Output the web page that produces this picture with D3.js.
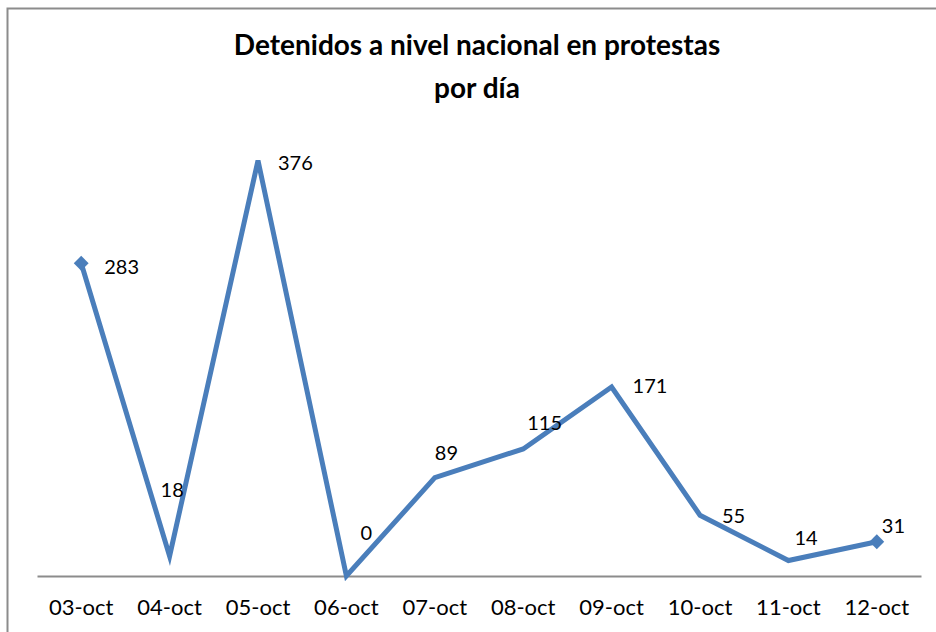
<!DOCTYPE html>
<html>
<head>
<meta charset="utf-8">
<script src="https://cdn.jsdelivr.net/npm/d3@7"></script>
<style>
  body { margin: 0; background: #fff; }
  svg { display: block; font-family: Lato, "Open Sans", sans-serif; }
</style>
</head>
<body>
<div class="lineChart"></div>
<script>
let days = ['03-oct', '04-oct', '05-oct', '06-oct', '07-oct', '08-oct', '09-oct', '10-oct', '11-oct', '12-oct'];
let detenidos = [283, 18, 376, 0, 89, 115, 171, 55, 14, 31];
let titleLines = ['Detenidos a nivel nacional en protestas', 'por día'];

// label nudges, as moved by hand in the original
let nudge = {
    '03-oct': [23, 4], '04-oct': [-9, -66], '05-oct': [20, 2], '06-oct': [14, -43],
    '07-oct': [0, -25], '08-oct': [4, -26], '09-oct': [21, -1], '10-oct': [22, 1],
    '11-oct': [6, -23], '12-oct': [5, -16]
};

function drawLineChart() {
    let margin = {top: 134, right: 15, bottom: 56, left: 37};
    let svg = d3.select('.lineChart')
        .append('svg')
        .attr('width', 936)
        .attr('height', 632);
    let width = +svg.attr('width') - margin.left - margin.right;
    let height = +svg.attr('height') - margin.top - margin.bottom;

    // frame (right and bottom edges cropped in the original)
    svg.append('path')
        .attr('d', 'M7.5,640 V8.5 H940')
        .attr('fill', 'none')
        .attr('stroke', '#8c8c8c')
        .attr('stroke-width', 2);

    svg.append('text')
        .attr('x', 477)
        .attr('y', 45)
        .attr('text-anchor', 'middle')
        .style('font-weight', 'bold')
        .style('font-size', '28px')
        .selectAll('tspan')
        .data(titleLines)
        .enter().append('tspan')
        .attr('x', 477)
        .attr('dy', (d, i) => i === 0 ? '0.35em' : 43)
        .text(d => d);

    let x = d3.scaleBand().domain(days).range([0, width]);
    let y = d3.scaleLinear().domain([0, 400]).range([height, 0]);
    let cx = d => x(d) + x.bandwidth() / 2;

    let g = svg.append('g')
        .attr('transform', 'translate(' + margin.left + ',' + margin.top + ')');

    let axis = g.append('g')
        .attr('transform', 'translate(0,' + height + ')')
        .call(d3.axisBottom(x).tickSize(0).tickPadding(23));
    axis.select('.domain').attr('stroke', '#8c8c8c').attr('stroke-width', 2);
    axis.selectAll('text')
        .style('font-size', '22px')
        .style('font-family', 'Lato, "Open Sans", sans-serif')
        .attr('fill', '#000');

    let line = d3.line()
        .x((d, i) => cx(days[i]))
        .y(d => y(d));

    g.append('path')
        .datum(detenidos)
        .attr('fill', 'none')
        .attr('stroke', '#4a7ebb')
        .attr('stroke-width', 5)
        .attr('stroke-linejoin', 'miter')
        .attr('d', line);

    // markers only on the first and last points
    let ends = [0, detenidos.length - 1];
    g.selectAll('.marker')
        .data(ends)
        .enter().append('path')
        .attr('class', 'marker')
        .attr('d', d3.symbol().type(d3.symbolSquare).size(110))
        .attr('fill', '#4a7ebb')
        .attr('transform', i => 'translate(' + cx(days[i]) + ',' + y(detenidos[i]) + ') rotate(45)');

    g.selectAll('.label')
        .data(detenidos)
        .enter().append('text')
        .attr('class', 'label')
        .attr('x', (d, i) => cx(days[i]) + nudge[days[i]][0])
        .attr('y', (d, i) => y(d) + nudge[days[i]][1])
        .attr('dy', '0.35em')
        .style('font-size', '20px')
        .attr('fill', '#000')
        .text(d => d);
}

drawLineChart();
</script>
</body>
</html>
